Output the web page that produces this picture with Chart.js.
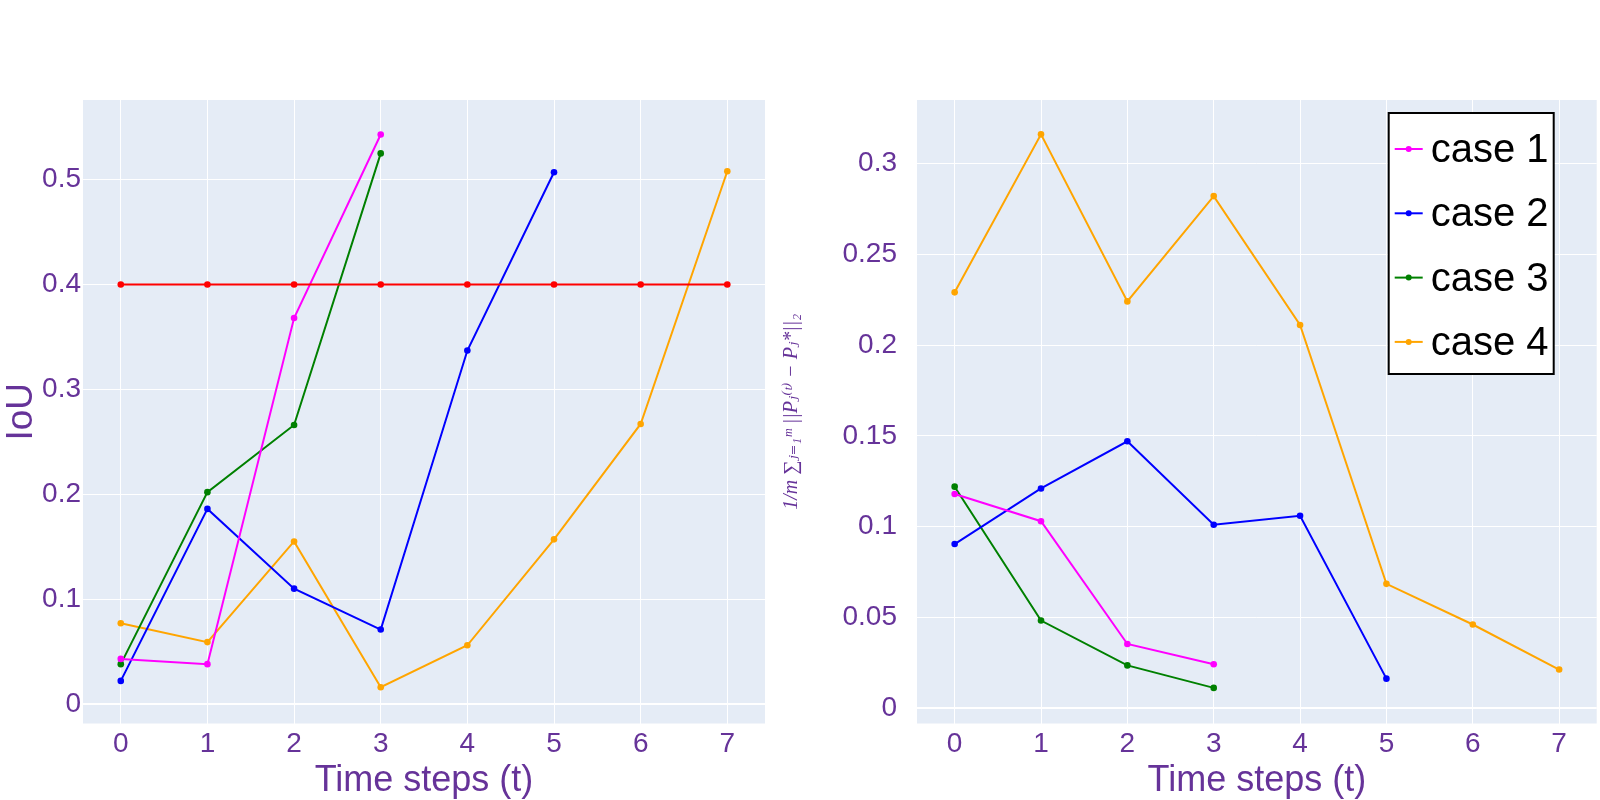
<!DOCTYPE html>
<html><head><meta charset="utf-8">
<script src="https://cdn.jsdelivr.net/npm/chart.js@4"></script>
<style>
html,body{margin:0;padding:0;background:#fff;width:1600px;height:800px;overflow:hidden}
#left{position:absolute;left:0;top:0;width:780px;height:800px}
#right{position:absolute;left:780px;top:0;width:820px;height:800px}
</style></head><body>
<div id="left"><canvas id="c1"></canvas></div>
<div id="right"><canvas id="c2"></canvas></div>
<script>
// IoU per time step (left) and mean point error per time step (right)
var timeSteps=[0,1,2,3,4,5,6,7];
var caseNames=["case 1","case 2","case 3","case 4"];
var caseColors=["#FF00FF","#0000FF","#008000","#FFA500"];
var iouThreshold=[0.4,0.4,0.4,0.4,0.4,0.4,0.4,0.4];
var iouCase1=[0.043,0.038,0.368,0.543];
var iouCase2=[0.022,0.186,0.110,0.071,0.337,0.507];
var iouCase3=[0.038,0.202,0.266,0.525];
var iouCase4=[0.077,0.059,0.155,0.016,0.056,0.157,0.267,0.508];
var errCase1=[0.118,0.103,0.0354,0.0242];
var errCase2=[0.0904,0.121,0.147,0.101,0.106,0.0163];
var errCase3=[0.122,0.0483,0.0236,0.0112];
var errCase4=[0.229,0.316,0.224,0.282,0.211,0.0685,0.0461,0.0213];
var iouTicks=[0,0.1,0.2,0.3,0.4,0.5];
var errTicks=[0,0.05,0.1,0.15,0.2,0.25,0.3];

var PURPLE="#663399", FONT="'Liberation Sans', Arial, sans-serif";

function pts(ys){return ys.map(function(y,i){return {x:timeSteps[i],y:y};});}
function ds(label,ys,color){
  return {label:label,data:pts(ys),borderColor:color,backgroundColor:color,borderWidth:2,
    pointRadius:3.3,pointHoverRadius:3.3,pointBorderWidth:0,pointBackgroundColor:color,fill:false,tension:0};
}
function fmt(v){return String(+(+v).toFixed(2));}

var plotBg={id:"plotBg",beforeDraw:function(c){
  var a=c.chartArea,x=c.ctx;x.save();x.fillStyle="#E5ECF6";x.fillRect(a.left,a.top,a.right-a.left,a.bottom-a.top);x.restore();
}};

var boxLegend={id:"boxLegend",afterDraw:function(c){
  var ctx=c.ctx,a=c.chartArea;
  var w=165,h=261,bx=a.right-43-w,by=a.top+13;
  ctx.save();
  ctx.fillStyle="#fff";ctx.fillRect(bx,by,w,h);
  ctx.strokeStyle="#000";ctx.lineWidth=2;ctx.strokeRect(bx,by,w,h);
  ctx.font="40px "+FONT;ctx.textBaseline="middle";ctx.textAlign="left";
  c.data.datasets.forEach(function(d,i){
    var cy=by+36+i*64.3;
    ctx.strokeStyle=d.borderColor;ctx.lineWidth=2;
    ctx.beginPath();ctx.moveTo(bx+6,cy);ctx.lineTo(bx+34,cy);ctx.stroke();
    ctx.fillStyle=d.borderColor;ctx.beginPath();ctx.arc(bx+20,cy,3,0,Math.PI*2);ctx.fill();
    ctx.fillStyle="#000";ctx.fillText(d.label,bx+42,cy+2);
  });
  ctx.restore();
}};

function makeOpts(yTicks,yMin,yMax,yWidth,yPad,yTitle,yTitleFont,padRight){
  return {
    responsive:true,maintainAspectRatio:false,animation:false,
    layout:{padding:{top:100,right:padRight,left:0,bottom:0}},
    plugins:{legend:{display:false},tooltip:{enabled:false}},
    scales:{
      x:{type:"linear",min:-0.436,max:7.435,
        afterBuildTicks:function(s){s.ticks=timeSteps.map(function(v){return {value:v};});},
        afterFit:function(s){s.height=76.5;},
        grid:{color:"#fff",lineWidth:1,drawTicks:false},border:{display:false},
        ticks:{color:PURPLE,font:{family:FONT,size:28},padding:4,callback:function(v){return String(v);}},
        title:{display:true,text:"Time steps (t)",color:PURPLE,font:{family:FONT,size:36,lineHeight:1},padding:{top:0,bottom:1}}
      },
      y:{type:"linear",min:yMin,max:yMax,
        afterBuildTicks:function(s){s.ticks=yTicks.map(function(v){return {value:v};});},
        afterFit:function(s){s.width=yWidth;},
        grid:{color:"#fff",lineWidth:function(c){return c.tick&&c.tick.value===0?2:1;},drawTicks:false},border:{display:false},
        ticks:{color:PURPLE,font:{family:FONT,size:28},padding:yPad,callback:function(v){return fmt(v);}},
        title:{display:true,text:yTitle,color:PURPLE,font:yTitleFont,padding:{top:0,bottom:0}}
      }
    }
  };
}

new Chart(document.getElementById("c1"),{
  type:"line",
  data:{datasets:[
    ds("threshold",iouThreshold,"#FF0000"),
    ds(caseNames[0],iouCase1,caseColors[0]),
    ds(caseNames[1],iouCase2,caseColors[1]),
    ds(caseNames[2],iouCase3,caseColors[2]),
    ds(caseNames[3],iouCase4,caseColors[3])
  ]},
  options:makeOpts(iouTicks,-0.0186,0.5759,83,2,"IoU",{family:FONT,size:37},15),
  plugins:[plotBg]
});

new Chart(document.getElementById("c2"),{
  type:"line",
  data:{datasets:[
    ds(caseNames[0],errCase1,caseColors[0]),
    ds(caseNames[1],errCase2,caseColors[1]),
    ds(caseNames[2],errCase3,caseColors[2]),
    ds(caseNames[3],errCase4,caseColors[3])
  ]},
  options:makeOpts(errTicks,-0.0084,0.3349,137,20,"1/m \u2211\u2C7C\u208C\u2081\u1D50 ||P\u2C7C\u207D\u1D57\u207E \u2212 P\u2C7C*||\u2082",
    {family:"'Liberation Serif','DejaVu Serif',serif",size:20,style:"italic"},0),
  plugins:[plotBg,boxLegend]
});
</script>
</body></html>
